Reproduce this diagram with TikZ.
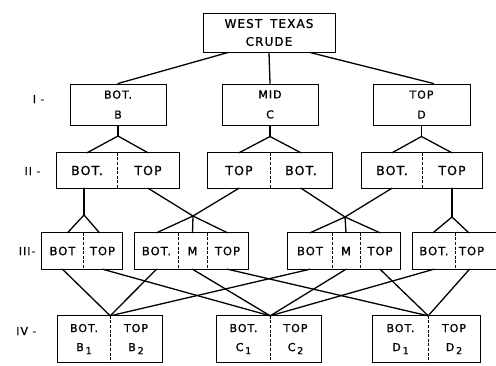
\documentclass[tikz,border=0pt]{standalone}
\usepackage{fontspec}
\setmainfont{DejaVu Sans}[LetterSpace=9, FakeBold=1]
\usetikzlibrary{calc}
% lowered index digit used in the bottom row (B1, B2, ...)
\newcommand\lowidx[1]{\,\raisebox{-3bp}{\fontsize{9.5bp}{9.5bp}\selectfont #1}}
\begin{document}
\begin{tikzpicture}[x=1bp,y=-1bp,
  box/.style={draw, line width=1bp, inner sep=0pt, align=center},
  cell/.style={inner sep=0pt, align=center},
  outline/.style={line width=1bp},
  divider/.style={line width=0.8bp, dash pattern=on 3bp off 1.6bp},
  conn/.style={line width=1.3bp, line cap=round, line join=round},
  lvl/.style={anchor=east, font=\fontsize{11bp}{12bp}\selectfont},
  fA/.style={font=\fontsize{12bp}{18bp}\selectfont},
  fI/.style={font=\fontsize{11bp}{20bp}\selectfont},
  fII/.style={font=\fontsize{12.5bp}{14bp}\selectfont},
  fIII/.style={font=\fontsize{11.5bp}{13bp}\selectfont},
  fIV/.style={font=\fontsize{11bp}{19bp}\selectfont},
]
\useasboundingbox (0,0) rectangle (496,365);
\fill[white] (0,0) rectangle (496,365);
\clip (0,0) rectangle (496,365);

% ---- feed ----
\node[box, fA, minimum width=132bp, minimum height=39bp] (top) at (269,32.5) {WEST\hspace{3bp} TEXAS\\CRUDE};

% ---- level I ----
\node[box, fI, minimum width=96bp, minimum height=41bp] (B) at (118,104.5) {BOT.\\B};
\node[box, fI, minimum width=96bp, minimum height=41bp] (C) at (270,104.5) {MID\\C};
\node[box, fI, minimum width=97bp, minimum height=41bp] (D) at (421.5,104.5) {TOP\\D};

% ---- level II ----
\begin{scope}[every node/.style={cell, fII, minimum height=35bp}]
  \node[minimum width=60bp] (L1) at (87,170.5) {BOT.};
  \node[minimum width=62bp] (L2) at (148,170.5) {TOP};
  \node[minimum width=62bp] (M1) at (239,170.5) {TOP};
  \node[minimum width=62bp] (M2) at (301,170.5) {BOT.};
  \node[minimum width=60bp] (R1) at (392,170.5) {BOT.};
  \node[minimum width=60bp] (R2) at (452,170.5) {TOP};
\end{scope}

% ---- level III ----
\begin{scope}[every node/.style={cell, fIII, minimum height=36bp}]
  \node[minimum width=41bp] (c1a) at (62.5,251) {BOT};
  \node[minimum width=39bp] (c1b) at (102.5,251) {TOP};
  \node[minimum width=43bp] (c2a) at (156.5,251) {BOT.};
  \node[minimum width=29bp] (c2b) at (192.5,251) {M};
  \node[minimum width=41bp] (c2c) at (227.5,251) {TOP};
  \node[minimum width=44bp] (c3a) at (310,251) {BOT};
  \node[minimum width=28bp] (c3b) at (346,251) {M};
  \node[minimum width=40bp] (c3c) at (380,251) {TOP};
  \node[minimum width=42bp] (c4a) at (434,251) {BOT.};
  \node[minimum width=45bp, text width=45bp, align=left] (c4b) at (477.5,251) {\hspace{4bp}TOP};
\end{scope}

% ---- level IV ----
\begin{scope}[every node/.style={cell, fIV, minimum height=46bp}]
  \node[minimum width=52bp] (b1) at (84,339) {BOT.\\B\lowidx{1}};
  \node[minimum width=52bp] (b2) at (136,339) {TOP\\B\lowidx{2}};
  \node[minimum width=53bp] (k1) at (243.5,339) {BOT.\\C\lowidx{1}};
  \node[minimum width=51bp] (k2) at (295.5,339) {TOP\\C\lowidx{2}};
  \node[minimum width=55bp] (d1) at (400.5,339) {BOT.\\D\lowidx{1}};
  \node[minimum width=52bp] (d2) at (454,339) {TOP\\D\lowidx{2}};
\end{scope}

% outlines and dashed dividers of the split boxes
\foreach \a/\b in {L1/L2, M1/M2, R1/R2, c1a/c1b, c2a/c2c, c3a/c3c, c4a/c4b, b1/b2, k1/k2, d1/d2}
  \draw[outline] (\a.north west) rectangle (\b.south east);
\foreach \a in {L1, M1, R1, c1a, c2a, c2b, c3a, c3b, c4a, b1, k1, d1}
  \draw[divider] (\a.north east) -- (\a.south east);

% ---- level labels ----
\node[lvl] (lI)   at (48,99)  {I -};
\node[lvl] (lII)  at (44,171) {II -};
\node[lvl] (lIII) at (39,251) {III-};
\node[lvl] (lIV)  at (40,331) {IV -};

% ---- feed to level I ----
\draw[conn] ([xshift=-41bp]top.south) -- (B.north);
\draw[conn] (top.south) -- (C.north);
\draw[conn] ([xshift=41bp]top.south) -- ([xshift=12bp]D.north);

% ---- level I to level II ----
\coordinate (jB) at ($(B.south)+(0,10.5)$);
\coordinate (jC) at ($(C.south)+(0,11)$);
\coordinate (jD) at ($(D.south)+(0,11)$);
\draw[conn] (B.south) -- (jB);
\draw[conn] (L1.north) -- (jB) -- (L2.north);
\draw[conn] (C.south) -- (jC);
\draw[conn] (M1.north) -- (jC) -- (M2.north);
\draw[conn] (D.south) -- (jD);
\draw[conn] (R1.north) -- (jD) -- (R2.north);

% ---- level II to level III ----
\coordinate (jL) at (84,215);
\coordinate (J1) at (193,216);
\coordinate (J2) at (345,217);
\coordinate (jR) at (452,217);
\draw[conn] (jL |- L1.south) -- (jL);
\draw[conn] ([xshift=5bp]c1a.north) -- (jL) -- ([xshift=-3bp]c1b.north);
\draw[conn] (L2.south) -- (J1) -- (M1.south);
\draw[conn] (c2a.north) -- (J1) -- (c2c.north);
\draw[conn] (J1) -- (c2b.north);
\draw[conn] (M2.south) -- (J2) -- (R1.south);
\draw[conn] (c3a.north) -- (J2) -- (c3c.north);
\draw[conn] (J2) -- (c3b.north);
\draw[conn] (R2.south) -- (jR);
\draw[conn] ([xshift=-1bp]c4a.north) -- (jR) -- ([xshift=14bp]c4b.north west);

% ---- level III to level IV ----
\draw[conn] (c1a.south) -- (b1.north east);
\draw[conn] (c2a.south) -- (b1.north east);
\draw[conn] (c3a.south) -- (b1.north east);
\draw[conn] (c1b.south) -- (k1.north east);
\draw[conn] (c2b.south) -- (k1.north east);
\draw[conn] (c3b.south) -- (k1.north east);
\draw[conn] (c4a.south) -- (k1.north east);
\draw[conn] (c2c.south) -- (d1.north east);
\draw[conn] (c3c.south) -- (d1.north east);
\draw[conn] ([xshift=-8bp]c4b.south) -- (d1.north east);
\end{tikzpicture}
\end{document}
